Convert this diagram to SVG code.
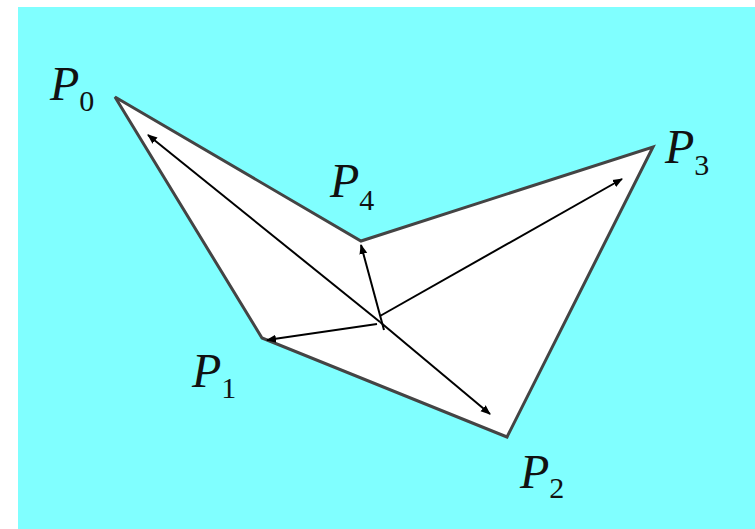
<svg xmlns="http://www.w3.org/2000/svg" width="755" height="529" viewBox="0 0 755 529">
<style>
.lbl{font-family:"Liberation Serif","Times New Roman",serif;font-style:italic;font-size:48px;fill:#111}
.sub{font-size:30px;font-style:normal}
.arr{stroke:#000;stroke-width:2;fill:none;marker-end:url(#ah)}
</style>
<defs>
<marker id="ah" viewBox="0 0 10 10" refX="9" refY="5" markerWidth="5" markerHeight="5" orient="auto" markerUnits="strokeWidth">
<path d="M0,1 L10,5 L0,9 Z" fill="#000"/>
</marker>
</defs>
<rect width="755" height="529" fill="#fff"/>
<rect x="18" y="7" width="737" height="522" fill="#80ffff"/>
<g id="polygon">
<polygon points="115,97 361,241 653,147 507,437 262,338" fill="#fff" stroke="#444" stroke-width="3" stroke-linejoin="miter"/>
</g>
<g id="connectors">
<line class="arr" x1="380" y1="322" x2="148" y2="135"/>
<line class="arr" x1="384" y1="330" x2="361" y2="245"/>
<line class="arr" x1="380" y1="316" x2="622" y2="179"/>
<line class="arr" x1="380" y1="322" x2="490" y2="414"/>
<line class="arr" x1="377" y1="324" x2="267" y2="340"/>
</g>
<g id="P0"><text class="lbl" x="50" y="100">P<tspan class="sub" dy="11">0</tspan></text></g>
<g id="P1"><text class="lbl" x="192" y="387">P<tspan class="sub" dy="11">1</tspan></text></g>
<g id="P2"><text class="lbl" x="520" y="488">P<tspan class="sub" dy="10">2</tspan></text></g>
<g id="P3"><text class="lbl" x="665" y="163">P<tspan class="sub" dy="12">3</tspan></text></g>
<g id="P4"><text class="lbl" x="330" y="197">P<tspan class="sub" dy="13">4</tspan></text></g>
</svg>
